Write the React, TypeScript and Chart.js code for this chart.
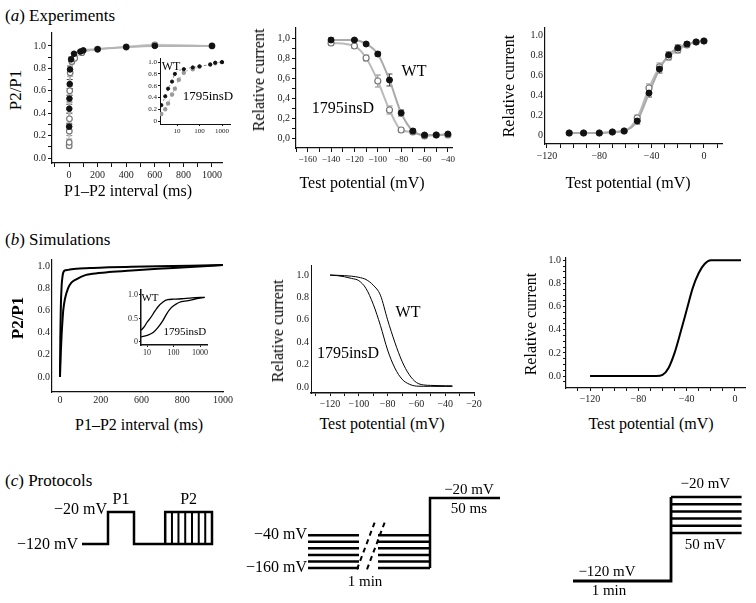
import React, { useEffect, useRef } from "react";
import { Chart, registerables } from "chart.js";

Chart.register(...registerables);

const SERIF = '"Liberation Serif", "Times New Roman", "DejaVu Serif", serif';
const MINUS = "\u2212";

/* ================= (a) Experiments ================= */
// recovery from inactivation (P2/P1 vs P1–P2 interval, ms)
const A1_WT_MS = [1, 2, 3, 5, 7, 15, 35, 80, 100, 200, 400, 600, 1000];
const A1_WT = [0.28, 0.44, 0.53, 0.66, 0.79, 0.88, 0.93, 0.95, 0.96, 0.97, 0.99, 1.0, 1.0];
const A1_WT_ERR = [0.03, 0.04, 0.03, 0.04, 0.03, 0.02, 0.01, 0.01, 0.01, 0.01, 0.01, 0.01, 0.01];
const A1_INS_MS = [1, 1.5, 2, 3, 5, 8, 20, 40, 90, 200, 400, 600, 1000];
const A1_INS = [0.11, 0.14, 0.24, 0.35, 0.6, 0.76, 0.86, 0.89, 0.94, 0.97, 0.99, 1.01, 1.0];
const A1_INS_ERR = [0.02, 0.03, 0.04, 0.05, 0.04, 0.03, 0.02, 0.01, 0.01, 0.01, 0.01, 0.01, 0.01];
const A1_X_MAJOR = [0, 200, 400, 600, 800, 1000];
const A1_X_LABELS = ["0", "200", "400", "600", "800", "1000"];
const A1_X_MINOR = [-100, 100, 300, 500, 700, 900];
const A1_Y_MAJOR = [0, 0.2, 0.4, 0.6, 0.8, 1.0];
const A1_Y_LABELS = ["0.0", "0.2", "0.4", "0.6", "0.8", "1.0"];
const A1_Y_MINOR = [0.1, 0.3, 0.5, 0.7, 0.9];

// inset (log interval)
const A1I_WT_MS = [2, 3, 4, 6, 8, 20, 50, 100, 300, 500, 1000];
const A1I_WT = [0.27, 0.42, 0.55, 0.67, 0.8, 0.88, 0.91, 0.93, 0.96, 0.99, 1.0];
const A1I_INS_MS = [2, 3, 4, 6, 8, 12, 20, 50, 100, 300, 500, 1000];
const A1I_INS = [0.12, 0.2, 0.3, 0.45, 0.55, 0.7, 0.82, 0.88, 0.92, 0.96, 0.98, 1.0];
const A1I_X_MAJOR = [10, 100, 1000];
const A1I_X_LABELS = ["10", "100", "1000"];
const A1I_Y_MAJOR = [0, 0.2, 0.4, 0.6, 0.8, 1.0];
const A1I_Y_LABELS = ["0", "0.2", "0.4", "0.6", "0.8", "1.0"];

// steady-state inactivation
const A2_V = [-140, -120, -110, -100, -90, -80, -70, -60, -50, -40];
const A2_WT = [0.98, 0.98, 0.94, 0.84, 0.58, 0.25, 0.07, 0.03, 0.03, 0.04];
const A2_WT_ERR = [0.02, 0.01, 0.01, 0.02, 0.06, 0.03, 0.02, 0.01, 0.01, 0.01];
const A2_INS = [0.95, 0.92, 0.8, 0.57, 0.28, 0.08, 0.06, 0.02, 0.03, 0.03];
const A2_INS_ERR = [0.02, 0.02, 0.03, 0.06, 0.04, 0.02, 0.01, 0.01, 0.01, 0.01];
const A2_X_MAJOR = [-160, -140, -120, -100, -80, -60, -40];
const A2_X_LABELS = A2_X_MAJOR.map((v) => MINUS + Math.abs(v));
const A2_X_MINOR = [-170, -150, -130, -110, -90, -70, -50];
const A2_Y_MAJOR = [0, 0.2, 0.4, 0.6, 0.8, 1.0];
const A2_Y_LABELS = ["0,0", "0,2", "0,4", "0,6", "0,8", "1,0"];
const A2_Y_MINOR = [0.1, 0.3, 0.5, 0.7, 0.9];

// activation
const A3_V = [-103, -92, -80, -70, -61, -51, -42, -34, -27, -20, -13, -6, 0];
const A3_WT = [0.02, 0.02, 0.02, 0.03, 0.04, 0.14, 0.42, 0.66, 0.8, 0.87, 0.91, 0.93, 0.94];
const A3_INS = [0.02, 0.02, 0.02, 0.03, 0.04, 0.17, 0.47, 0.68, 0.78, 0.85, 0.9, 0.93, 0.94];
const A3_ERR = [0.01, 0.01, 0.01, 0.01, 0.01, 0.03, 0.04, 0.04, 0.03, 0.03, 0.02, 0.01, 0.01];
const A3_X_MAJOR = [-120, -80, -40, 0];
const A3_X_LABELS = [MINUS + "120", MINUS + "80", MINUS + "40", "0"];
const A3_X_MINOR = [-110, -100, -90, -70, -60, -50, -30, -20, -10, 10];
const A3_Y_MAJOR = [0, 0.2, 0.4, 0.6, 0.8, 1.0];
const A3_Y_LABELS = ["0", "0.2", "0.4", "0.6", "0.8", "1.0"];

/* ================= (b) Simulations ================= */
const B1_MS = [0, 2, 5, 10, 15, 20, 30, 50, 70, 100, 160, 200, 300, 440, 600, 800, 1000];
const B1_WT = [0, 0.35, 0.62, 0.82, 0.9, 0.94, 0.96, 0.965, 0.97, 0.975, 0.98, 0.982, 0.988, 0.993, 0.998, 1.003, 1.01];
const B1_INS = [0, 0.1, 0.22, 0.38, 0.5, 0.6, 0.7, 0.8, 0.85, 0.88, 0.92, 0.93, 0.945, 0.96, 0.975, 0.99, 1.01];
const B1_X_MAJOR = [0, 250, 500, 750, 1000];
const B1_X_LABELS = ["0", "200", "600", "800", "1000"];
const B1_Y_MAJOR = [0, 0.2, 0.4, 0.6, 0.8, 1.0];
const B1_Y_LABELS = ["0.0", "0.2", "0.4", "0.6", "0.8", "1.0"];

const B1I_WT_MS = [6, 8, 10, 13, 20, 26, 40, 60, 100, 200, 500, 1500];
const B1I_WT = [0.25, 0.33, 0.42, 0.5, 0.66, 0.75, 0.85, 0.9, 0.91, 0.92, 0.94, 0.95];
const B1I_INS_MS = [6, 10, 17, 25, 39, 55, 79, 120, 160, 360, 700, 1500];
const B1I_INS = [0.11, 0.14, 0.2, 0.3, 0.45, 0.6, 0.72, 0.8, 0.84, 0.88, 0.92, 0.95];
const B1I_X_MAJOR = [10, 100, 1000];
const B1I_X_LABELS = ["10", "100", "1000"];
const B1I_Y_MAJOR = [0, 0.5, 1.0];
const B1I_Y_LABELS = ["0", "0.5", "1.0"];

const B2_V = [-120, -115, -110, -105, -100, -95, -90, -85, -80, -75, -70, -65, -60, -55, -50, -45, -40, -35];
const B2_INS = [1.0, 0.995, 0.985, 0.97, 0.95, 0.88, 0.74, 0.55, 0.33, 0.17, 0.07, 0.025, 0.008, 0.006, 0.006, 0.005, 0.005, 0.005];
const B2_WT = [1.0, 0.998, 0.995, 0.99, 0.98, 0.96, 0.91, 0.82, 0.6, 0.4, 0.23, 0.11, 0.04, 0.018, 0.014, 0.012, 0.011, 0.01];
const B2_X_MAJOR = [-120, -100, -80, -60, -40, -20];
const B2_X_LABELS = B2_X_MAJOR.map((v) => MINUS + Math.abs(v));
const B2_X_MINOR = [-130, -110, -90, -70, -50, -30];
const B2_Y_MAJOR = [0, 0.2, 0.4, 0.6, 0.8, 1.0];
const B2_Y_LABELS = ["0.0", "0.2", "0.4", "0.6", "0.8", "1.0"];

const B3_V = [-120, -110, -100, -90, -80, -70, -65, -60, -55, -50, -45, -40, -35, -30, -25, -20, -15, -10, -5, 0, 5];
const B3_G = [0, 0, 0, 0, 0, 0, 0, 0.01, 0.07, 0.2, 0.38, 0.57, 0.76, 0.89, 0.97, 1.0, 1.0, 1.0, 1.0, 1.0, 1.0];
const B3_X_MAJOR = [-120, -80, -40, 0];
const B3_X_LABELS = [MINUS + "120", MINUS + "80", MINUS + "40", "0"];
const B3_X_MINOR = [-130, -110, -100, -90, -70, -60, -50, -30, -20, -10];
const B3_Y_MAJOR = [0, 0.2, 0.4, 0.6, 0.8, 1.0];
const B3_Y_LABELS = ["0.0", "0.2", "0.4", "0.6", "0.8", "1.0"];
const B3_Y_MINOR = [-0.05, 0.05, 0.1, 0.15, 0.25, 0.3, 0.35, 0.45, 0.5, 0.55, 0.65, 0.7, 0.75, 0.85, 0.9, 0.95];

/* ================= (c) Protocols ================= */
// protocol 1: time (a.u.) vs potential (mV)
const PR1_T = [0, 10, 10, 20, 20, 50, 50, 32, 32];
const PR1_MV = [-120, -120, -20, -20, -120, -120, -20, -20, -120];
const PR1_P2_STEPS = [34.6, 37.1, 39.7, 42.3, 44.9, 47.4];
// protocol 2: conditioning levels (−160 … −40 mV), index units
const PR2_LEVELS = [0, 1, 2, 3, 4, 5];
const PR2_PRE = [0, 10.2];
const PR2_POST = [14, 24.4];
const PR2_TEST_LEVEL = 10.7;
const PR2_TEST_END = 38.4;
const PR2_BREAK_T0 = [9.8, 11.8];
const PR2_BREAK_T1 = [13.6, 15.6];
const PR2_BREAK_L = [-0.2, 7.5];
// protocol 3: test levels
const PR3_HOLD = [0, 10];
const PR3_LEVELS = [6.67, 7.67, 8.67, 9.67, 10.67, 11.67];
const PR3_TEST_END = 17.2;

/* ================= helpers ================= */
type AxisOpt = {
  min: number; max: number; type?: string; major?: number[]; labels?: string[]; minor?: number[];
  font?: number; tick?: number; pad?: number; bw?: number;
};
type Box = { left: number; top: number; width: number; height: number; ax: number; ay: number; ar: number; at: number };
type TextItem = { x: number; y: number; text: string; size: number; align?: CanvasTextAlign; dx?: number; dy?: number; weight?: string };

function makeScale(o: AxisOpt, horizontal: boolean, size: number) {
  const major = o.major || [];
  const labels = o.labels || [];
  const values = [...major, ...(o.minor || [])].sort((a, b) => a - b);
  return {
    type: o.type || "linear",
    min: o.min,
    max: o.max,
    bounds: "data",
    border: { display: true, color: "#111", width: o.bw ?? 1.2 },
    grid: { display: true, drawOnChartArea: false, drawTicks: true, tickLength: o.tick ?? 4, color: "#111", lineWidth: 1 },
    ticks: {
      autoSkip: false,
      maxRotation: 0,
      minRotation: 0,
      padding: o.pad ?? 2,
      color: "#222",
      font: { family: SERIF, size: o.font ?? 10 },
      callback: (v: any) => {
        const i = major.findIndex((m) => Math.abs(m - Number(v)) < 1e-6);
        return i >= 0 ? labels[i] : "";
      },
    },
    afterBuildTicks: (s: any) => {
      s.ticks = values.map((value) => ({ value }));
    },
    afterFit: (s: any) => {
      if (horizontal) s.height = size;
      else s.width = size;
    },
  };
}

const errorBarPlugin = {
  id: "errbars",
  beforeDatasetsDraw(chart: any) {
    const { ctx } = chart;
    const sx = chart.scales.x;
    const sy = chart.scales.y;
    chart.data.datasets.forEach((ds: any) => {
      if (!ds.errors) return;
      ctx.save();
      ctx.strokeStyle = ds.errorColor || "#666";
      ctx.lineWidth = 1;
      ds.data.forEach((p: any, j: number) => {
        const e = ds.errors[j];
        if (!e) return;
        const px = sx.getPixelForValue(p.x);
        const y1 = sy.getPixelForValue(p.y + e);
        const y2 = sy.getPixelForValue(p.y - e);
        ctx.beginPath();
        ctx.moveTo(px, y1);
        ctx.lineTo(px, y2);
        ctx.moveTo(px - 3, y1);
        ctx.lineTo(px + 3, y1);
        ctx.moveTo(px - 3, y2);
        ctx.lineTo(px + 3, y2);
        ctx.stroke();
      });
      ctx.restore();
    });
  },
};

function textPlugin(items: TextItem[]) {
  return {
    id: "texts",
    afterDraw(chart: any) {
      const { ctx } = chart;
      const sx = chart.scales.x;
      const sy = chart.scales.y;
      ctx.save();
      items.forEach((t) => {
        ctx.font = `${t.weight || "normal"} ${t.size}px ${SERIF}`;
        ctx.fillStyle = "#000";
        ctx.textAlign = t.align || "center";
        ctx.textBaseline = "middle";
        ctx.fillText(t.text, sx.getPixelForValue(t.x) + (t.dx || 0), sy.getPixelForValue(t.y) + (t.dy || 0));
      });
      ctx.restore();
    },
  };
}

const pts = (xs: number[], ys: number[]) => xs.map((x, i) => ({ x, y: ys[i] }));
const filled = (data: any[], r = 3, errors?: number[]) => ({
  data, showLine: false, pointRadius: r, backgroundColor: "#111", borderColor: "#111", pointBorderWidth: 1, errors, errorColor: "#444",
});
const open = (data: any[], r = 3, errors?: number[]) => ({
  data, showLine: false, pointRadius: r, backgroundColor: "#fff", borderColor: "#777", pointBorderWidth: 1.2, errors, errorColor: "#888",
});
const curve = (data: any[], color: string, w: number, dash: number[] = []) => ({
  data, showLine: true, pointRadius: 0, borderColor: color, backgroundColor: color, borderWidth: w,
  borderDash: dash, cubicInterpolationMode: "monotone", fill: false,
});
const seg = (data: any[], w = 2.5, dash: number[] = []) => ({
  data, showLine: true, pointRadius: 0, borderColor: "#000", backgroundColor: "#000", borderWidth: w,
  borderDash: dash, tension: 0, fill: false, borderJoinStyle: "miter", borderCapStyle: "butt",
});

function Plot(props: { box: Box; datasets: any[]; x: AxisOpt; y: AxisOpt; texts?: TextItem[]; hidden?: boolean }) {
  const ref = useRef<HTMLCanvasElement>(null);
  const { box, datasets, x, y, texts = [], hidden = false } = props;
  useEffect(() => {
    const scales = hidden
      ? {
          x: { type: "linear", display: false, min: x.min, max: x.max, bounds: "data" },
          y: { type: "linear", display: false, min: y.min, max: y.max, bounds: "data" },
        }
      : {
          x: makeScale(x, true, box.top + box.height - box.ay),
          y: makeScale(y, false, box.ax - box.left),
        };
    const chart = new Chart(ref.current as HTMLCanvasElement, {
      type: "scatter",
      data: { datasets },
      options: {
        responsive: false,
        animation: false,
        devicePixelRatio: 1,
        events: [],
        layout: {
          padding: { left: 0, bottom: 0, top: box.at - box.top, right: box.left + box.width - box.ar },
        },
        plugins: { legend: { display: false }, tooltip: { enabled: false } },
        scales,
      } as any,
      plugins: [errorBarPlugin, textPlugin(texts)],
    } as any);
    return () => chart.destroy();
  }, []);
  return (
    <canvas
      ref={ref}
      width={box.width}
      height={box.height}
      style={{ position: "absolute", left: box.left, top: box.top, width: box.width, height: box.height, display: "block" }}
    />
  );
}

function Label(props: { x: number; y: number; size?: number; rotate?: boolean; weight?: string; children: any }) {
  const { x, y, size = 16, rotate = false, weight = "normal", children } = props;
  return (
    <div
      style={{
        position: "absolute", left: x, top: y,
        transform: `translate(-50%, -50%)${rotate ? " rotate(-90deg)" : ""}`,
        font: `${weight} ${size}px ${SERIF}`, whiteSpace: "nowrap", lineHeight: 1, color: "#000",
      }}
    >
      {children}
    </div>
  );
}

function Heading(props: { y: number; letter: string; text: string }) {
  return (
    <div style={{ position: "absolute", left: 5, top: props.y, transform: "translateY(-50%)", font: `17px ${SERIF}`, whiteSpace: "nowrap", lineHeight: 1 }}>
      (<i>{props.letter}</i>) {props.text}
    </div>
  );
}

const hiddenBox = (left: number, top: number, width: number, height: number): Box => ({
  left, top, width, height, ax: left, ay: top + height, ar: left + width, at: top,
});

export default function App() {
  return (
    <div style={{ position: "absolute", left: 0, top: 0, width: 756, height: 603, background: "#fff", overflow: "hidden" }}>
      {/* ---------- (a) ---------- */}
      <Heading y={15} letter="a" text="Experiments" />

      <Plot
        box={{ left: 25, top: 25, width: 235, height: 160, ax: 52, ay: 163, ar: 222, at: 32 }}
        x={{ min: -119, max: 1070, major: A1_X_MAJOR, labels: A1_X_LABELS, minor: A1_X_MINOR }}
        y={{ min: -0.044, max: 1.115, major: A1_Y_MAJOR, labels: A1_Y_LABELS, minor: A1_Y_MINOR }}
        datasets={[
          filled(pts(A1_WT_MS, A1_WT), 2.8, A1_WT_ERR),
          open(pts(A1_INS_MS, A1_INS), 2.8, A1_INS_ERR),
          curve(pts(A1_WT_MS, A1_WT), "#b5b5b5", 2),
          curve(pts(A1_INS_MS, A1_INS), "#c8c8c8", 2),
        ]}
      />
      <Plot
        box={{ left: 140, top: 52, width: 100, height: 82, ax: 160, ay: 124, ar: 230, at: 58 }}
        x={{ type: "logarithmic", min: 1.75, max: 2268, major: A1I_X_MAJOR, labels: A1I_X_LABELS, font: 7, tick: 2, pad: 1, bw: 1 }}
        y={{ min: -0.05, max: 1.07, major: A1I_Y_MAJOR, labels: A1I_Y_LABELS, font: 7, tick: 2, pad: 1, bw: 1 }}
        datasets={[
          filled(pts(A1I_WT_MS, A1I_WT), 1.6),
          { ...open(pts(A1I_INS_MS, A1I_INS), 1.6), backgroundColor: "#999", borderColor: "#999" },
          curve(pts(A1I_WT_MS, A1I_WT), "#888", 1, [2, 3]),
          curve(pts(A1I_INS_MS, A1I_INS), "#bbb", 1, [2, 3]),
        ]}
        texts={[
          { x: 2.1, y: 0.92, text: "WT", size: 12, align: "left" },
          { x: 238, y: 0.41, text: "1795insD", size: 13 },
        ]}
      />
      <Label x={15} y={90} size={17} rotate>P2/P1</Label>
      <Label x={128} y={191} size={16}>P1–P2 interval (ms)</Label>

      <Plot
        box={{ left: 265, top: 20, width: 195, height: 150, ax: 296, ay: 148, ar: 452, at: 28 }}
        x={{ min: -170, max: -36.5, major: A2_X_MAJOR, labels: A2_X_LABELS, minor: A2_X_MINOR, font: 9 }}
        y={{ min: -0.1, max: 1.1, major: A2_Y_MAJOR, labels: A2_Y_LABELS, minor: A2_Y_MINOR, font: 10 }}
        datasets={[
          filled(pts(A2_V, A2_WT), 3, A2_WT_ERR),
          open(pts(A2_V, A2_INS), 3, A2_INS_ERR),
          curve(pts(A2_V, A2_WT), "#aaa", 2),
          curve(pts(A2_V, A2_INS), "#bbb", 2),
        ]}
        texts={[
          { x: -69, y: 0.66, text: "WT", size: 16 },
          { x: -129.8, y: 0.29, text: "1795insD", size: 16 },
        ]}
      />
      <Label x={259} y={80} rotate>Relative current</Label>
      <Label x={362} y={183}>Test potential (mV)</Label>

      <Plot
        box={{ left: 515, top: 20, width: 220, height: 150, ax: 545, ay: 144, ar: 722, at: 28 }}
        x={{ min: -121.5, max: 13.8, major: A3_X_MAJOR, labels: A3_X_LABELS, minor: A3_X_MINOR }}
        y={{ min: -0.09, max: 1.07, major: A3_Y_MAJOR, labels: A3_Y_LABELS, tick: 0 }}
        datasets={[
          filled(pts(A3_V, A3_WT), 3, A3_ERR),
          open(pts(A3_V, A3_INS), 3, A3_ERR),
          curve(pts(A3_V, A3_WT), "#aaa", 2),
          curve(pts(A3_V, A3_INS), "#bbb", 2),
        ]}
      />
      <Label x={509} y={86} rotate>Relative current</Label>
      <Label x={628} y={183}>Test potential (mV)</Label>

      {/* ---------- (b) ---------- */}
      <Heading y={239} letter="b" text="Simulations" />

      <Plot
        box={{ left: 25, top: 250, width: 210, height: 160, ax: 52, ay: 392, ar: 225, at: 260 }}
        x={{ min: -49, max: 1006, major: B1_X_MAJOR, labels: B1_X_LABELS, tick: 0 }}
        y={{ min: -0.135, max: 1.054, major: B1_Y_MAJOR, labels: B1_Y_LABELS, tick: 0 }}
        datasets={[curve(pts(B1_MS, B1_WT), "#000", 2), curve(pts(B1_MS, B1_INS), "#000", 2)]}
      />
      <Plot
        box={{ left: 112, top: 283, width: 118, height: 74, ax: 141, ay: 345, ar: 207, at: 290 }}
        x={{ type: "logarithmic", min: 5.9, max: 1837, major: B1I_X_MAJOR, labels: B1I_X_LABELS, font: 8, tick: 2, pad: 1, bw: 1.5 }}
        y={{ min: -0.064, max: 1.106, major: B1I_Y_MAJOR, labels: B1I_Y_LABELS, font: 8, tick: 2, pad: 1, bw: 1.5 }}
        datasets={[curve(pts(B1I_WT_MS, B1I_WT), "#000", 1.3), curve(pts(B1I_INS_MS, B1I_INS), "#000", 1.3)]}
        texts={[
          { x: 12.9, y: 0.94, text: "WT", size: 11 },
          { x: 269, y: 0.21, text: "1795insD", size: 11 },
        ]}
      />
      <Label x={17} y={318} size={17} weight="bold" rotate>P2/P1</Label>
      <Label x={139} y={425}>P1–P2 interval (ms)</Label>

      <Plot
        box={{ left: 285, top: 255, width: 200, height: 155, ax: 311, ay: 393, ar: 474, at: 265 }}
        x={{ min: -133.2, max: -20, major: B2_X_MAJOR, labels: B2_X_LABELS, minor: B2_X_MINOR, tick: 3, bw: 1.5 }}
        y={{ min: -0.054, max: 1.09, major: B2_Y_MAJOR, labels: B2_Y_LABELS, tick: 0, bw: 1 }}
        datasets={[curve(pts(B2_V, B2_WT), "#000", 1), curve(pts(B2_V, B2_INS), "#000", 1)]}
        texts={[
          { x: -65.8, y: 0.66, text: "WT", size: 16 },
          { x: -107.5, y: 0.3, text: "1795insD", size: 16 },
        ]}
      />
      <Label x={278} y={331} rotate>Relative current</Label>
      <Label x={382} y={424}>Test potential (mV)</Label>

      <Plot
        box={{ left: 540, top: 250, width: 216, height: 160, ax: 566, ay: 388, ar: 745, at: 258 }}
        x={{ min: -139.9, max: 8.3, major: B3_X_MAJOR, labels: B3_X_LABELS, minor: B3_X_MINOR, tick: 3 }}
        y={{ min: -0.103, max: 1.02, major: B3_Y_MAJOR, labels: B3_Y_LABELS, minor: B3_Y_MINOR, tick: 3 }}
        datasets={[curve(pts(B3_V, B3_G), "#000", 2)]}
      />
      <Label x={531} y={324} rotate>Relative current</Label>
      <Label x={651} y={424}>Test potential (mV)</Label>

      {/* ---------- (c) ---------- */}
      <Heading y={480} letter="c" text="Protocols" />

      <Plot
        hidden
        box={hiddenBox(0, 470, 240, 110)}
        x={{ min: -31.54, max: 60.77 }}
        y={{ min: -232.5, max: 111.25 }}
        datasets={[
          seg(pts(PR1_T, PR1_MV)),
          ...PR1_P2_STEPS.map((t) => seg([{ x: t, y: -120 }, { x: t, y: -20 }], 2)),
        ]}
        texts={[
          { x: -1.5, y: -120, text: MINUS + "120 mV", size: 16, align: "right", dy: 1 },
          { x: 10, y: -20, text: MINUS + "20 mV", size: 16, align: "right", dx: -1, dy: -2 },
          { x: 15, y: -20, text: "P1", size: 16, dy: -12 },
          { x: 41, y: -20, text: "P2", size: 16, dy: -12 },
        ]}
      />

      <Plot
        hidden
        box={hiddenBox(240, 470, 280, 125)}
        x={{ min: -13.6, max: 42.4 }}
        y={{ min: -4.12, max: 14.96 }}
        datasets={[
          ...PR2_LEVELS.map((l) => seg([{ x: PR2_PRE[0], y: l }, { x: PR2_PRE[1], y: l }], 2.5)),
          ...PR2_LEVELS.map((l) => seg([{ x: PR2_POST[0], y: l }, { x: PR2_POST[1], y: l }], 2.5)),
          seg([
            { x: PR2_POST[1], y: PR2_LEVELS[0] },
            { x: PR2_POST[1], y: PR2_TEST_LEVEL },
            { x: PR2_TEST_END, y: PR2_TEST_LEVEL },
          ], 2.5),
          ...PR2_BREAK_T0.map((t0, i) =>
            seg([{ x: t0, y: PR2_BREAK_L[0] }, { x: PR2_BREAK_T1[i], y: PR2_BREAK_L[1] }], 2, [5, 4])
          ),
        ]}
        texts={[
          { x: -0.2, y: PR2_LEVELS[5], text: MINUS + "40 mV", size: 16, align: "right" },
          { x: -0.2, y: PR2_LEVELS[0], text: MINUS + "160 mV", size: 16, align: "right" },
          { x: 11.4, y: 0, text: "1 min", size: 15, dy: 14 },
          { x: 32.2, y: PR2_TEST_LEVEL, text: MINUS + "20 mV", size: 15, dy: -8 },
          { x: 32.2, y: PR2_TEST_LEVEL, text: "50 ms", size: 15, dy: 11 },
        ]}
      />

      <Plot
        hidden
        box={hiddenBox(520, 470, 236, 133)}
        x={{ min: -5.408, max: 18.67 }}
        y={{ min: -3.06, max: 15.42 }}
        datasets={[
          seg([
            { x: PR3_HOLD[0], y: 0 },
            { x: PR3_HOLD[1], y: 0 },
            { x: PR3_HOLD[1], y: PR3_LEVELS[PR3_LEVELS.length - 1] },
          ], 2.8),
          ...PR3_LEVELS.map((l) => seg([{ x: PR3_HOLD[1], y: l }, { x: PR3_TEST_END, y: l }], 2.5)),
        ]}
        texts={[
          { x: 3.47, y: 0, text: MINUS + "120 mV", size: 15, dy: -9 },
          { x: 3.67, y: 0, text: "1 min", size: 15, dy: 10 },
          { x: 13.5, y: PR3_LEVELS[5], text: MINUS + "20 mV", size: 15, dy: -13 },
          { x: 13.5, y: PR3_LEVELS[0], text: "50 mV", size: 15, dy: 12 },
        ]}
      />
    </div>
  );
}
